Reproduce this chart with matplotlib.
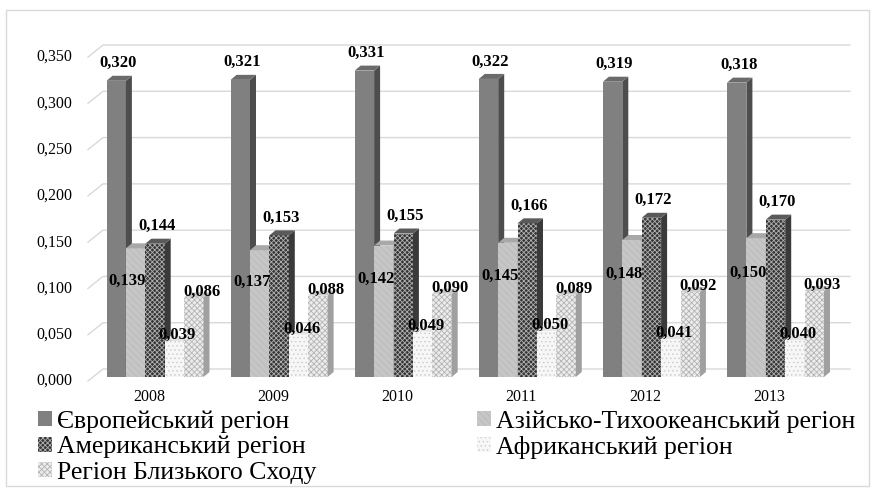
import matplotlib.pyplot as plt
from matplotlib.patches import Polygon, Patch, Rectangle

years = ['2008', '2009', '2010', '2011', '2012', '2013']
europe = [0.320, 0.321, 0.331, 0.322, 0.319, 0.318]
asia = [0.139, 0.137, 0.142, 0.145, 0.148, 0.150]
america = [0.144, 0.153, 0.155, 0.166, 0.172, 0.170]
africa = [0.039, 0.046, 0.049, 0.050, 0.041, 0.040]
middle_east = [0.086, 0.088, 0.090, 0.089, 0.092, 0.093]
names = ['Європейський регіон', 'Азійсько-Тихоокеанський регіон',
         'Американський регіон', 'Африканський регіон', 'Регіон Близького Сходу']
yticks = [0.0, 0.05, 0.10, 0.15, 0.20, 0.25, 0.30, 0.35]

plt.rcParams['font.family'] = ['Liberation Serif', 'DejaVu Serif']
plt.rcParams['hatch.linewidth'] = 0.6

W, H = 872, 490
fig = plt.figure(figsize=(W / 100, H / 100), dpi=100)
ax = fig.add_axes([88 / W, (H - 381) / H, (850 - 88) / W, (381 - 30) / H])

# pixel -> data conversion
px_x = 1 / 124.1
px_y = 1 / 925.7
xmin, xmax = (88 - 149) * px_x, (850 - 149) * px_x
ax.set_xlim(xmin, xmax)
ax.set_ylim(0, (381 - 30) * px_y)
ax.axis('off')

# (front, side, top, hatch, hatch colour)
styles = [
    ('#808080', '#4d4d4d', '#6b6b6b', None, '#808080'),
    ('#c6c6c6', '#9a9a9a', '#a8a8a8', '\\\\\\\\\\', '#bababa'),
    ('#353535', '#3a3a3a', '#5a5a5a', 'xxxxxxx', '#b0b0b0'),
    ('#f7f7f7', '#d8d8d8', '#e2e2e2', '....', '#cfcfcf'),
    ('#ececec', '#a0a0a0', '#c8c8c8', 'xxxxxx', '#b4b4b4'),
]
series = [europe, asia, america, africa, middle_east]

# back wall grid lines
for t in yticks:
    ax.plot([xmin, xmin + 15 * px_x, xmax], [t, t + 12 * px_y, t + 12 * px_y],
            color='#d9d9d9', lw=1, zorder=0, clip_on=False)
    ax.text(xmin - 16 * px_x, t, f'{t:.3f}'.replace('.', ','), ha='right',
            va='center', fontsize=11.5)

bw = 19.4 * px_x
base = 4 * px_y
dx, dy = 6 * px_x, 5 * px_y
z = 2
for i, yr in enumerate(years):
    ax.text(i, -16 * px_y, yr, ha='center', va='center', fontsize=11.5)
    for j, vals in enumerate(series):
        v = vals[i]
        front, side, top, hatch, hc = styles[j]
        l = i + 6 * px_x + (j - 2.5) * bw
        r = l + bw
        ax.bar(l, v, width=bw, bottom=base, align='edge', color=front,
               hatch=hatch, edgecolor=hc, linewidth=0, zorder=z)
        ax.add_patch(Polygon([(r, base), (r + dx, base + dy), (r + dx, base + v + dy),
                              (r, base + v)], closed=True, facecolor=side,
                             edgecolor='none', zorder=z))
        ax.add_patch(Polygon([(l, base + v), (l + dx, base + v + dy),
                              (r + dx, base + v + dy), (r, base + v)], closed=True,
                             facecolor=top, edgecolor='none', zorder=z))
        z += 1
        lab = f'{v:.3f}'.replace('.', ',')
        cx = l + bw / 2
        if j == 1:
            pos = (cx - 8 * px_x, base + 0.75 * v)
        elif j == 3:
            pos = (cx + 3 * px_x, base + v + 6 * px_y)
        elif j == 4:
            pos = (cx + 8 * px_x, base + v + 6 * px_y)
        else:
            pos = (cx + 2 * px_x, base + v + 17.5 * px_y)
        ax.text(pos[0], pos[1], lab, ha='center', va='center', fontsize=12,
                fontweight='bold', zorder=100)

handles = [Patch(facecolor=s[0], hatch=s[3], edgecolor=s[4], linewidth=0)
           for s in styles]
leg_kw = dict(loc='upper left', frameon=False, borderpad=0,
              prop={'family': ['Liberation Serif'], 'size': 18.5},
              borderaxespad=0, handlelength=0.55, handleheight=0.5,
              handletextpad=0.2, labelspacing=0.13)
fig.legend([handles[0], handles[2], handles[4]], [names[0], names[2], names[4]],
           bbox_to_anchor=(38 / W, 1 - 410 / H), **leg_kw)
fig.legend([handles[1], handles[3]], [names[1], names[3]],
           bbox_to_anchor=(477 / W, 1 - 410 / H), **leg_kw)

fig.add_artist(Rectangle((6 / W, 1 - 486 / H), (869 - 6) / W, (486 - 10) / H,
                         transform=fig.transFigure, fill=False,
                         edgecolor='#d9d9d9', lw=1))

fig.savefig('out.png', dpi=100)
